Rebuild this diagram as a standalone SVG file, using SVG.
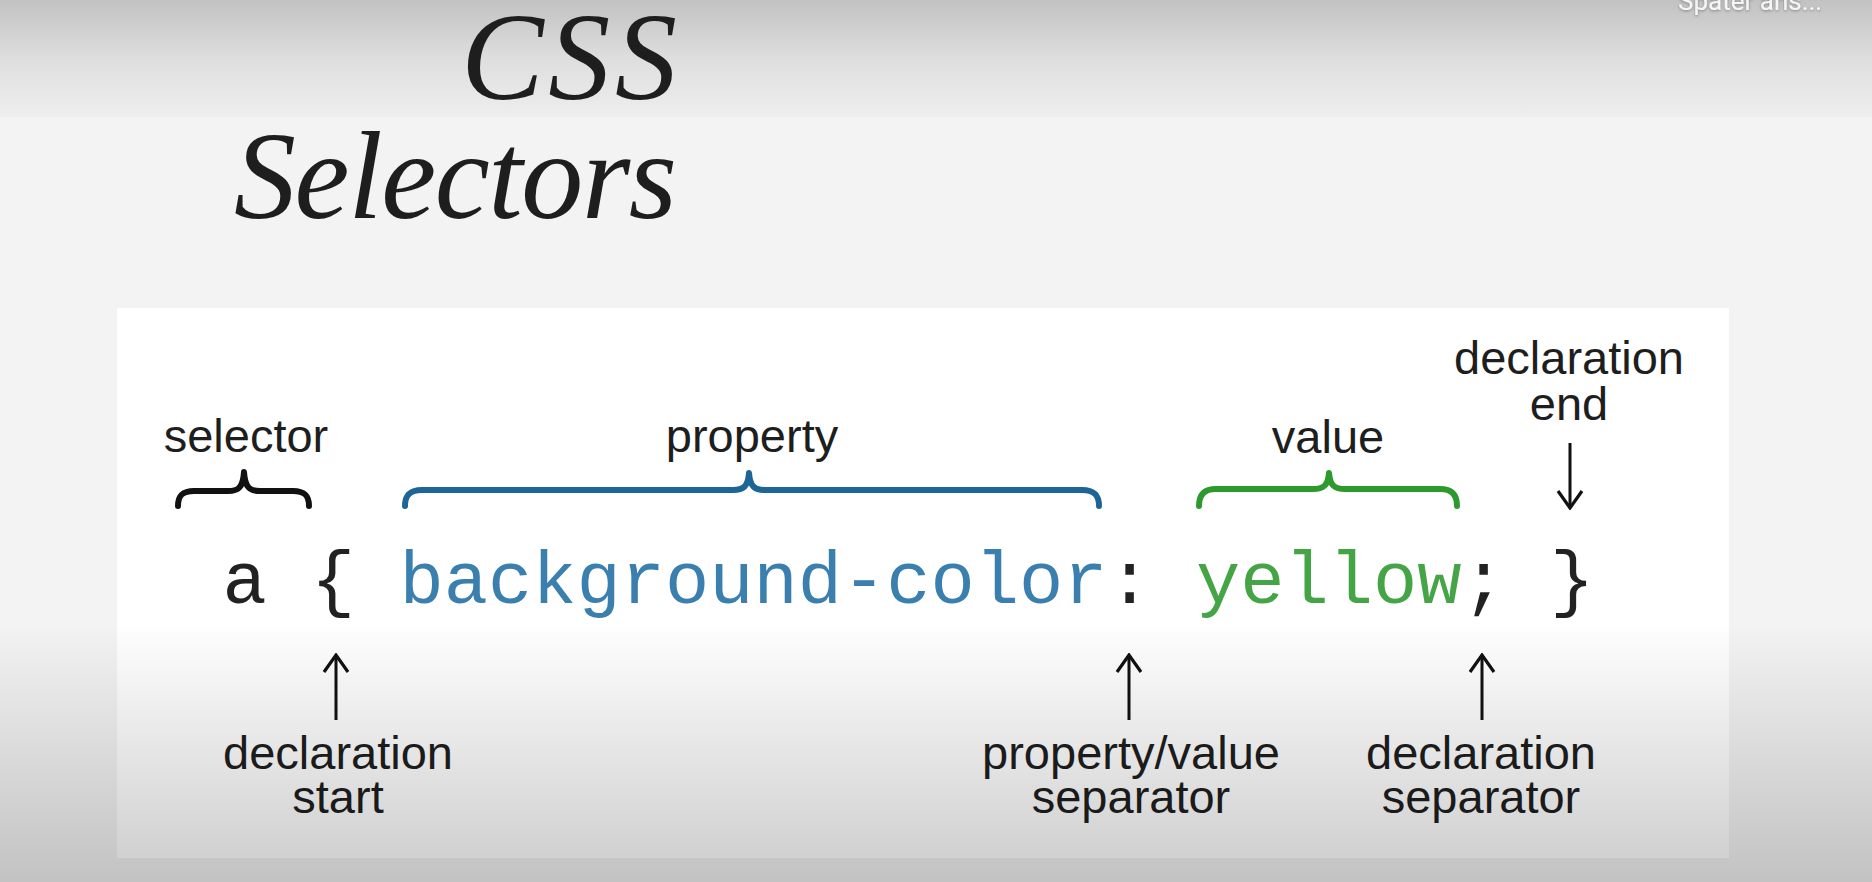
<svg xmlns="http://www.w3.org/2000/svg" width="1872" height="882" viewBox="0 0 1872 882">
<defs>
<linearGradient id="topband" x1="0" y1="0" x2="0" y2="1">
<stop offset="0" stop-color="#c2c2c2"/>
<stop offset="0.5" stop-color="#dedede"/>
<stop offset="1" stop-color="#eeeeee"/>
</linearGradient>
<linearGradient id="bottomshade" x1="0" y1="0" x2="0" y2="1">
<stop offset="0" stop-color="#000" stop-opacity="0"/>
<stop offset="1" stop-color="#000" stop-opacity="0.2"/>
</linearGradient>
<filter id="shadow" x="-10%" y="-50%" width="120%" height="200%">
<feDropShadow dx="0" dy="1" stdDeviation="1.5" flood-color="#000" flood-opacity="0.35"/>
</filter>
<marker id="ah" viewBox="0 0 24 30" refX="22" refY="15" markerWidth="24" markerHeight="30" markerUnits="userSpaceOnUse" orient="auto">
<path d="M5,3 L22,15 L5,27" fill="none" stroke="#111" stroke-width="3.2" stroke-linejoin="miter"/>
</marker>
</defs>
<style>
.title{font-family:"Liberation Serif","Times New Roman",serif;font-style:italic;font-size:124px;fill:#1e1e1e;text-anchor:end}
.lbl{font-family:"Liberation Sans",Arial,sans-serif;font-size:47px;fill:#1e1e1e;text-anchor:middle}
.code{font-family:"Liberation Mono","Courier New",monospace;font-size:73.75px;fill:#222}
.blue{fill:#3a7fae}
.green{fill:#45a445}
.brace{fill:none;stroke-width:6;stroke-linecap:round;stroke-linejoin:round}
.arrow{fill:none;stroke:#111;stroke-width:3}
</style>

<rect x="0" y="0" width="1872" height="882" fill="#f3f3f3"/>
<rect x="0" y="0" width="1872" height="117" fill="url(#topband)"/>
<rect x="117" y="308" width="1612" height="550" fill="#ffffff"/>
<text x="1678" y="10" font-family="Roboto,'Liberation Sans',sans-serif" font-size="26" fill="#f6f6f6" filter="url(#shadow)">Später ans...</text>

<g id="title">
<text class="title" x="677" y="99" textLength="216">CSS</text>
<text class="title" x="677" y="218" textLength="443">Selectors</text>
</g>

<g id="code">
<text class="code" x="222.4" y="603" xml:space="preserve">a { <tspan class="blue">background-color</tspan>: <tspan class="green">yellow</tspan>; }</text>
</g>

<g id="selector">
<path class="brace" stroke="#111" stroke-width="7" d="M178,506 C178,495 183,491 194,491 L228,491 C238,491 243,488 244,472 C245,488 250,491 260,491 L293,491 C304,491 309,495 309,506"/>
<text class="lbl" x="246" y="452">selector</text>
</g>

<g id="property">
<path class="brace" stroke="#1d6596" d="M405,506 C405,495 410,490 422,490 L733,490 C743,490 748,487 749,473 C750,487 755,490 765,490 L1082,490 C1094,490 1099,495 1099,506"/>
<text class="lbl" x="752" y="452">property</text>
</g>

<g id="value">
<path class="brace" stroke="#2c9a2c" d="M1199,506 C1199,495 1204,489 1216,489 L1313,489 C1323,489 1328,486 1329,473 C1330,486 1335,489 1345,489 L1440,489 C1452,489 1457,495 1457,506"/>
<text class="lbl" x="1328" y="453">value</text>
</g>

<g id="declaration-end">
<text class="lbl" x="1569" y="374">declaration</text>
<text class="lbl" x="1569" y="420">end</text>
</g>

<g id="declaration-start">
<text class="lbl" x="338" y="769">declaration</text>
<text class="lbl" x="338" y="813">start</text>
</g>

<g id="pv-separator">
<text class="lbl" x="1131" y="769">property/value</text>
<text class="lbl" x="1131" y="813">separator</text>
</g>

<g id="declaration-separator">
<text class="lbl" x="1481" y="769">declaration</text>
<text class="lbl" x="1481" y="813">separator</text>
</g>

<g id="connectors">
<line class="arrow" x1="1570" y1="443" x2="1570" y2="508" marker-end="url(#ah)"/>
<line class="arrow" x1="336" y1="720" x2="336" y2="655" marker-end="url(#ah)"/>
<line class="arrow" x1="1129" y1="720" x2="1129" y2="655" marker-end="url(#ah)"/>
<line class="arrow" x1="1482" y1="720" x2="1482" y2="655" marker-end="url(#ah)"/>
</g>

<rect x="0" y="620" width="1872" height="262" fill="url(#bottomshade)"/>
</svg>
